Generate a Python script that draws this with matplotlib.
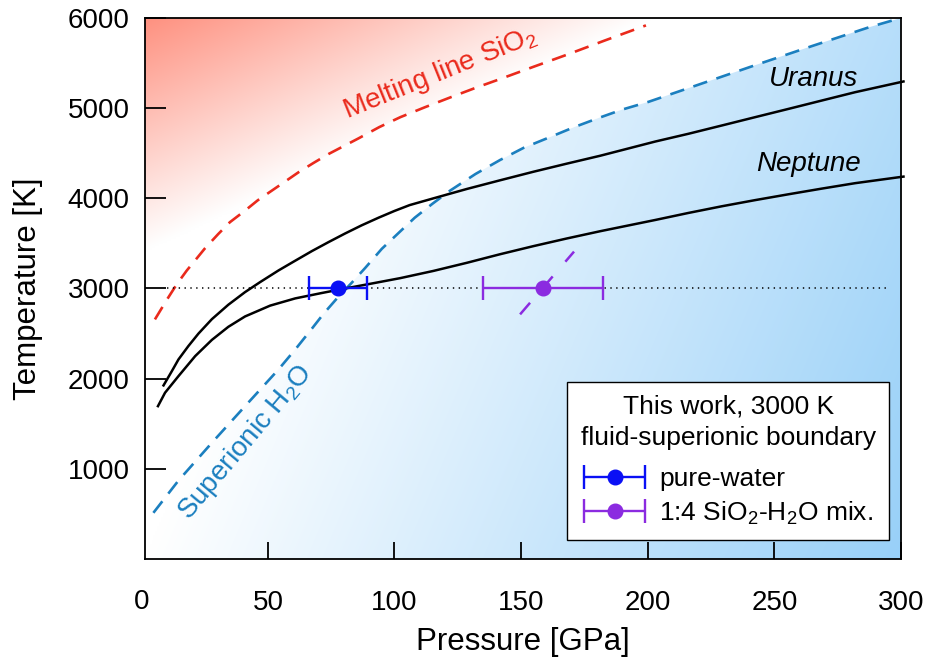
import numpy as np
import matplotlib
matplotlib.use("Agg")
import matplotlib.pyplot as plt
from matplotlib.patches import Polygon
from matplotlib.transforms import blended_transform_factory
from matplotlib.ticker import FixedLocator
from matplotlib.legend_handler import HandlerErrorbar
from matplotlib.container import ErrorbarContainer

plt.rcParams['font.family'] = ['Liberation Sans', 'DejaVu Sans']
plt.rcParams['mathtext.fontset'] = 'custom'
plt.rcParams['mathtext.rm'] = 'Liberation Sans'
plt.rcParams['mathtext.it'] = 'Liberation Sans:italic'
plt.rcParams['lines.scale_dashes'] = False

# ---------------- data ----------------
uranus_P = [8.8, 12.1, 14.7, 18.6, 22.6, 27.9, 34.4, 41.0, 46.9, 54.2, 60.0, 67.4, 74.0, 80.5,
            87.0, 93.7, 100.0, 106.0, 115.4, 128.6, 141.7, 154.9, 168.1, 181.2, 203.0, 216.1,
            229.3, 242.4, 255.6, 268.8, 281.9, 301.0]
uranus_T = [1925, 2084, 2213, 2361, 2500, 2660, 2820, 2960, 3070, 3200, 3295, 3415, 3515, 3610,
            3700, 3785, 3860, 3925, 4000, 4104, 4200, 4295, 4385, 4472, 4630, 4716,
            4808, 4900, 4992, 5085, 5177, 5296]

neptune_P = [6.6, 9.4, 14.7, 21.3, 27.9, 34.4, 41.0, 50.9, 60.8, 71.3, 80.5, 91.0, 102.3, 115.4,
             128.6, 141.7, 154.9, 168.1, 181.2, 203.0, 216.1, 229.3, 242.4, 255.6, 268.8, 281.9, 301.0]
neptune_T = [1695, 1844, 2028, 2250, 2430, 2575, 2690, 2810, 2890, 2950, 3000, 3055, 3115, 3195,
             3285, 3380, 3470, 3555, 3635, 3760, 3838, 3912, 3980, 4045, 4108, 4168, 4241]

melt_P = [5.4, 10.0, 14.0, 18.0, 21.2, 25.0, 30.4, 35.0, 41.0, 46.0, 51.6, 57.0, 62.1, 68.0, 74.0,
          80.0, 85.8, 94.0, 102.3, 112.0, 122.1, 132.0, 141.9, 155.0, 168.3, 183.0, 199.3]
melt_T = [2657, 2870, 3046, 3200, 3309, 3440, 3604, 3735, 3864, 3978, 4086, 4190, 4289, 4392, 4492,
          4580, 4665, 4790, 4900, 5010, 5120, 5225, 5325, 5460, 5595, 5750, 5918]

superionic_P = [4.8, 14.7, 27.9, 41.0, 54.2, 61.0, 67.4, 72.0, 77.9, 83.0, 88.5, 95.0, 102.3, 108.0,
                115.0, 122.0, 132.0, 141.7, 151.0, 161.5, 171.0, 181.0, 190.0, 200.3, 220.0,
                242.8, 265.0, 287.7, 300.0]
superionic_T = [512, 870, 1289, 1695, 2102, 2330, 2555, 2720, 2910, 3060, 3230, 3440, 3634, 3785,
                3940, 4086, 4270, 4425, 4560, 4680, 4790, 4895, 4985, 5070, 5260,
                5480, 5690, 5900, 6000]

iso_P = [10, 295]
iso_T = [3000, 3000]

pure_P, pure_T, pure_err = 77.7, 3000, 11.3
mix_P, mix_T, mix_err = 158.5, 3000, 23.7
mix_line_P = [149.6, 170.9]
mix_line_T = [2713, 3409]

x_ticks = [50, 100, 150, 200, 250, 300]
y_ticks = [1000, 2000, 3000, 4000, 5000, 6000]

# ---------------- colors ----------------
red_c = '#ea2a1c'
blue_line_c = '#1b7fbf'
pure_c = '#0a10f5'
mix_c = '#8b2be0'

xmin, xmax, ymin, ymax = 1.5, 300, 0, 6000

fig = plt.figure(figsize=(9.25, 6.57), dpi=100)
ax = fig.add_axes([0.1568, 0.1492, 0.8172, 0.8234])

# ---------------- gradient fills ----------------
ny, nx = 300, 400
u = np.linspace(0, 1, nx)[None, :]
v = np.linspace(0, 1, ny)[:, None]
W, H = 756.0, 541.0

tr = np.clip(1 - (u * W / 505 + (1 - v) * H / 232), 0, 1)
red_end = np.array([254, 145, 128]) / 255
img_r = np.ones((ny, nx, 4))
img_r[..., :3] = 1 - tr[..., None] * (1 - red_end)
im_r = ax.imshow(img_r, extent=[xmin, xmax, ymin, ymax], origin='lower',
                 aspect='auto', zorder=0, interpolation='bilinear')
red_poly = [(xmin, 2550)] + list(zip(melt_P, melt_T)) + [(207, 6000), (207, 6200), (xmin, 6200)]
pr = Polygon(red_poly, closed=True, transform=ax.transData, facecolor='none', edgecolor='none')
ax.add_patch(pr)
im_r.set_clip_path(pr)

tb = np.clip(u - 0.3 * v, 0, 1)
blue_end = np.array([152, 208, 248]) / 255
img_b = np.ones((ny, nx, 4))
img_b[..., :3] = 1 - tb[..., None] * (1 - blue_end)
im_b = ax.imshow(img_b, extent=[xmin, xmax, ymin, ymax], origin='lower',
                 aspect='auto', zorder=0, interpolation='bilinear')
blue_poly = [(xmin, 400)] + list(zip(superionic_P, superionic_T)) + [(301, 6100), (301, -50), (xmin, -50)]
pb = Polygon(blue_poly, closed=True, transform=ax.transData, facecolor='none', edgecolor='none')
ax.add_patch(pb)
im_b.set_clip_path(pb)

# ---------------- lines ----------------
ax.plot(melt_P, melt_T, color=red_c, lw=1.9, dashes=(10.5, 7), zorder=2)
ax.plot(superionic_P, superionic_T, color=blue_line_c, lw=1.9, dashes=(10.5, 7), zorder=2)
ax.plot(uranus_P, uranus_T, color='black', lw=1.8, zorder=3, clip_on=False)
ax.plot(neptune_P, neptune_T, color='black', lw=1.8, zorder=3, clip_on=False)
ax.plot(iso_P, iso_T, color='black', lw=1.1, dashes=(1, 3.2), zorder=3)
ax.plot(mix_line_P, mix_line_T, color=mix_c, lw=1.8, dashes=(11, 14), zorder=4)

eb1 = ax.errorbar(pure_P, pure_T, xerr=pure_err, fmt='o', color=pure_c, ms=10.5,
                  capsize=8.5, elinewidth=1.7, capthick=1.7, zorder=5, label='pure-water')
eb2 = ax.errorbar(mix_P, mix_T, xerr=mix_err, fmt='o', color=mix_c, ms=10.5,
                  capsize=8.5, elinewidth=1.7, capthick=1.7, zorder=5,
                  label='1:4 SiO$_2$-H$_2$O mix.')

# ---------------- annotations ----------------
ax.text(118.0, 5390, 'Melting line SiO$_2$', color=red_c, fontsize=20, rotation=22,
        ha='center', va='center', rotation_mode='anchor')
ax.text(41.0, 1290, 'Superionic H$_2$O', color=blue_line_c, fontsize=20, rotation=50,
        ha='center', va='center', rotation_mode='anchor')
ax.text(265.4, 5325, 'Uranus', fontsize=20, style='italic', ha='center', va='center')
ax.text(263.5, 4381, 'Neptune', fontsize=20, style='italic', ha='center', va='center')

# ---------------- axes ----------------
ax.set_xlim(xmin, xmax)
ax.set_ylim(ymin, ymax)
ax.xaxis.set_major_locator(FixedLocator(x_ticks))
ax.yaxis.set_major_locator(FixedLocator(y_ticks))
ax.tick_params(axis='both', direction='in', width=1.3, labelsize=20,
               top=False, right=False)
ax.tick_params(axis='x', length=12.5, pad=22)
ax.tick_params(axis='y', length=15, pad=11)
for s in ax.spines.values():
    s.set_linewidth(1.3)

trans = blended_transform_factory(ax.transData, ax.transAxes)
ax.text(0, -30.5 / 541, '0', transform=trans, fontsize=20, ha='center', va='top', clip_on=False)

ax.set_xlabel('Pressure [GPa]', fontsize=22.5)
ax.set_ylabel('Temperature [K]', fontsize=22.5)
ax.xaxis.set_label_coords(0.5, -0.153)
ax.xaxis.label.set_va('center')
ax.yaxis.set_label_coords(-0.155, 0.5)
ax.yaxis.label.set_va('center')

leg = ax.legend(handles=[eb1, eb2], title='This work, 3000 K\nfluid-superionic boundary',
                loc='lower right', bbox_to_anchor=(0.984, 0.035), borderaxespad=0,
                fontsize=19, title_fontsize=19, frameon=True, fancybox=False,
                edgecolor='black', framealpha=1, handlelength=2.4, handletextpad=0.5,
                borderpad=0.5, labelspacing=0.33,
                handler_map={ErrorbarContainer: HandlerErrorbar(xerr_size=1.15)})
leg.get_title().set_multialignment('center')
leg.get_title().set_linespacing(1.37)
leg._legend_box.sep = 0.33 * 19 + 6.0
leg.get_frame().set_linewidth(1.0)
leg.set_zorder(6)

fig.savefig('out.png', dpi=100)
